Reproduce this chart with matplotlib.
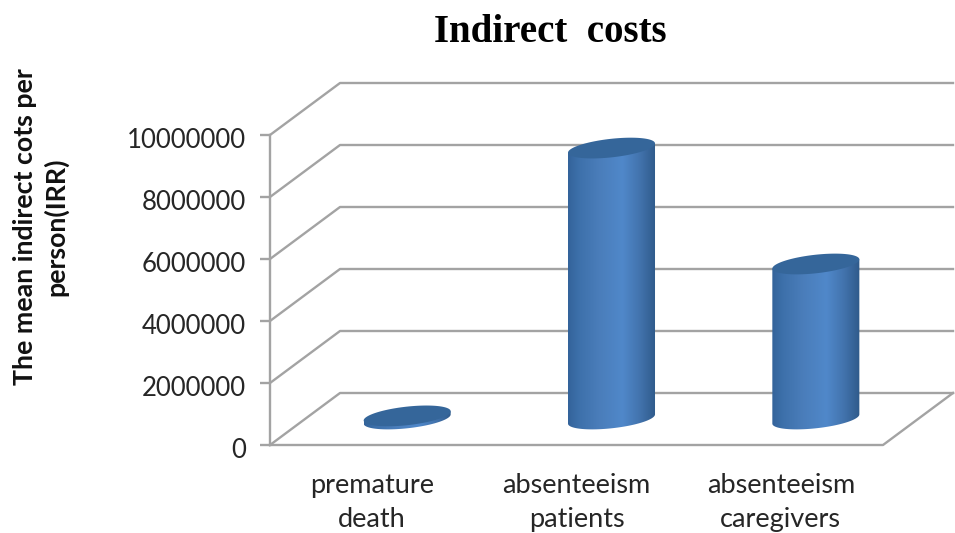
import numpy as np
import matplotlib.pyplot as plt
from matplotlib.colors import LinearSegmentedColormap
from matplotlib.patches import Polygon
from matplotlib.transforms import ScaledTranslation

categories = ['premature\ndeath', 'absenteeism\npatients', 'absenteeism\ncaregivers']
values = [100000, 8740000, 5000000]
y_ticks = [0, 2000000, 4000000, 6000000, 8000000, 10000000]
y_title = 'The mean indirect cots per\nperson(IRR)'

W, H = 955, 533
PX_X = 204.3          # pixels per category
PX_Y = 31.0 / 1e6     # pixels per value unit
DEPTH_X = 70 / PX_X   # depth of the 3D box in data units
DEPTH_Y = 52 / PX_Y

GRID = '#a3a3a3'
LW = 1.7

fig = plt.figure(figsize=(W / 100, H / 100), dpi=100)
ax = fig.add_axes([270 / W, (H - 445) / H, 613 / W, 310 / H])
ax.set_xlim(0, 3)
ax.set_ylim(0, 10000000)

# walls and floor
for v in y_ticks:
    xs = [0, DEPTH_X, 3 + DEPTH_X]
    ys = [v, v + DEPTH_Y, v + DEPTH_Y]
    ax.plot(xs, ys, color=GRID, lw=LW, clip_on=False, zorder=1)
ax.plot([0, 3, 3 + DEPTH_X], [0, 0, DEPTH_Y], color=GRID, lw=LW, clip_on=False, zorder=1)

# cylinders
cmap = LinearSegmentedColormap.from_list('cyl', [
    (0.0, '#33639a'), (0.12, '#3d70aa'), (0.35, '#4a7dba'), (0.62, '#5088ca'),
    (0.82, '#4273ad'), (1.0, '#2f5a8a')])
half_w = 43.5 / PX_X
tilt_px = 4.6 / PX_Y
minor_px = 9.3 / PX_Y
t = np.linspace(0, 2 * np.pi, 121)


def ellipse(cx, cy, t):
    return cx + half_w * np.cos(t), cy + tilt_px * np.cos(t) + minor_px * np.sin(t)


for i, v in enumerate(values):
    cx = i + 0.5 + DEPTH_X / 2
    base = DEPTH_Y / 2
    top = base + v

    tb = np.linspace(np.pi, 2 * np.pi, 60)
    bx, by = ellipse(cx, base, tb)
    body = np.column_stack([np.r_[bx, cx + half_w, cx - half_w],
                            np.r_[by, top + tilt_px, top - tilt_px]])
    clip = Polygon(body, closed=True, transform=ax.transData, fc='none', ec='none')
    ax.add_patch(clip)
    img = ax.imshow(np.linspace(0, 1, 256).reshape(1, -1), cmap=cmap, aspect='auto',
                    extent=[cx - half_w, cx + half_w, base - 2 * minor_px - tilt_px, top + tilt_px],
                    zorder=3, interpolation='bilinear')
    img.set_clip_path(clip)

    ex, ey = ellipse(cx, top, t)
    ax.fill(ex, ey, color='#35669a', lw=0, zorder=4, clip_on=False)

ax.set_xlim(0, 3)
ax.set_ylim(0, 10000000)

for s in ['top', 'right', 'bottom']:
    ax.spines[s].set_visible(False)
ax.spines['left'].set_color(GRID)
ax.spines['left'].set_linewidth(LW)
ax.patch.set_alpha(0)

ax.set_yticks(y_ticks)
ax.set_yticklabels([str(v) for v in y_ticks], family='Lato', fontsize=18.5, color='#262626')
ax.tick_params(axis='y', length=7.5, width=LW, color=GRID, pad=10)
ax.set_xticks([0.5, 1.5, 2.5])
ax.set_xticklabels(categories, family='Lato', fontsize=19.5, color='#262626', linespacing=1.44)
ax.tick_params(axis='x', length=0, pad=20)

shift = ScaledTranslation(0, -2 / 72, fig.dpi_scale_trans)
for lab in ax.get_yticklabels():
    lab.set_transform(lab.get_transform() + shift)

fig.text(550 / W, 1 - 33 / H, 'Indirect  costs', family='Liberation Serif', fontweight='bold',
         fontsize=28, ha='center', va='center', color='black')
fig.text(41 / W, 1 - 227 / H, y_title, family='Lato', fontweight='bold', fontsize=19.3,
         rotation=90, ha='center', va='center', ma='center', linespacing=1.3, color='#111111')

fig.savefig('out.png', dpi=100)
